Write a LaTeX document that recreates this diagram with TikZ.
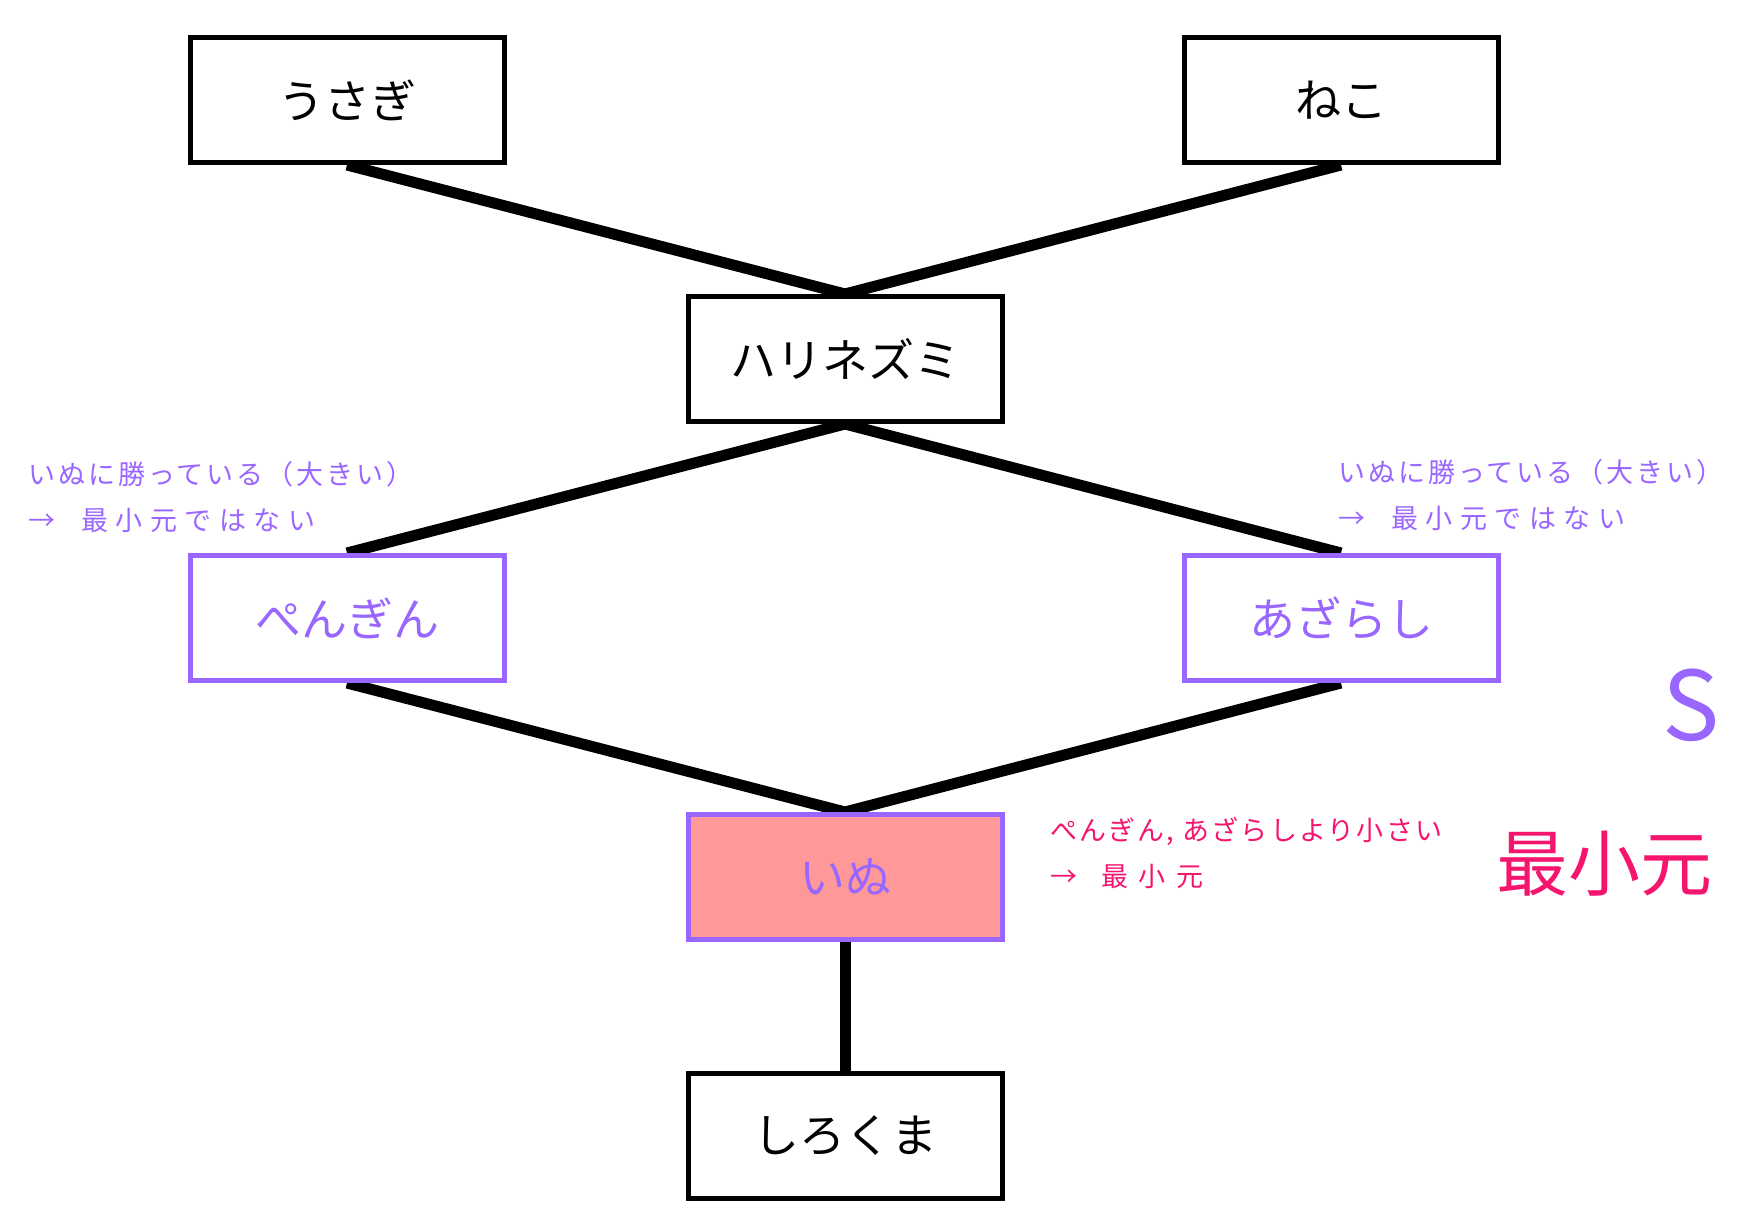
\documentclass[tikz,border=0pt]{standalone}
\usepackage{fontspec}
\usepackage{tikz}
\usetikzlibrary{positioning, backgrounds}
\newfontfamily\jpfont{Noto Sans CJK JP}
\definecolor{mpurple}{RGB}{153,102,255}
\definecolor{mpink}{RGB}{245,20,110}
\definecolor{msalmon}{RGB}{255,153,153}
\newcommand{\spaced}[1]{\addfontfeature{LetterSpace=#1}}
\tikzset{
	animal/.style={draw, line width=5pt, fill=white, inner sep=0pt, minimum width=314pt, minimum height=125pt, font=\jpfont\fontsize{46}{50}\selectfont},
	link/.style={line width=11pt},
	note/.style={anchor=west, align=left, inner sep=0pt, font=\jpfont\fontsize{27}{46}\selectfont}
}

\begin{document}
\begin{tikzpicture}[x=1pt, y=-1pt]
	\useasboundingbox (0, 0) rectangle (1745, 1226);
	\node (usagi) [animal] at (347, 100) {うさぎ};
	\node (neko) [animal] at (1341, 100) {ねこ};
	\node (harinezumi) [animal] at (845, 359) {ハリネズミ};
	\node (pengin) [animal, draw=mpurple, text=mpurple] at (347, 618) {ぺんぎん};
	\node (azarashi) [animal, draw=mpurple, text=mpurple] at (1341, 618) {あざらし};
	\node (inu) [animal, draw=mpurple, fill=msalmon, text=mpurple] at (845, 877) {いぬ};
	\node (shirokuma) [animal] at (845, 1136) {しろくま};
	\begin{scope}[on background layer]
	\draw [link] (usagi.south)--(harinezumi.north);
	\draw [link] (neko.south)--(harinezumi.north);
	\draw [link] (harinezumi.south)--(pengin.north);
	\draw [link] (harinezumi.south)--(azarashi.north);
	\draw [link] (pengin.south)--(inu.north);
	\draw [link] (azarashi.south)--(inu.north);
	\draw [link] (inu.south)--(shirokuma.north);
	\end{scope}
	\node (notel) [note, text=mpurple] at (28, 497) {{\spaced{11}いぬに勝っている（大きい）}\\→\hspace{26pt}{\spaced{28}最小元ではない}};
	\node (noter) [note, text=mpurple] at (1338, 495) {{\spaced{11}いぬに勝っている（大きい）}\\→\hspace{26pt}{\spaced{28}最小元ではない}};
	\node (setS) [text=mpurple, inner sep=0pt, font=\jpfont\fontsize{96}{100}\selectfont] at (1691, 705) {S};
	\node (notemin) [note, text=mpink] at (1050, 853) {{\spaced{8}ぺんぎん, あざらしより小さい}\\→\hspace{24pt}{\spaced{40}最小元}};
	\node (minlabel) [text=mpink, inner sep=0pt, anchor=west, font=\jpfont\fontsize{72}{76}\selectfont] at (1496, 864) {最小元};
\end{tikzpicture}
\end{document}
